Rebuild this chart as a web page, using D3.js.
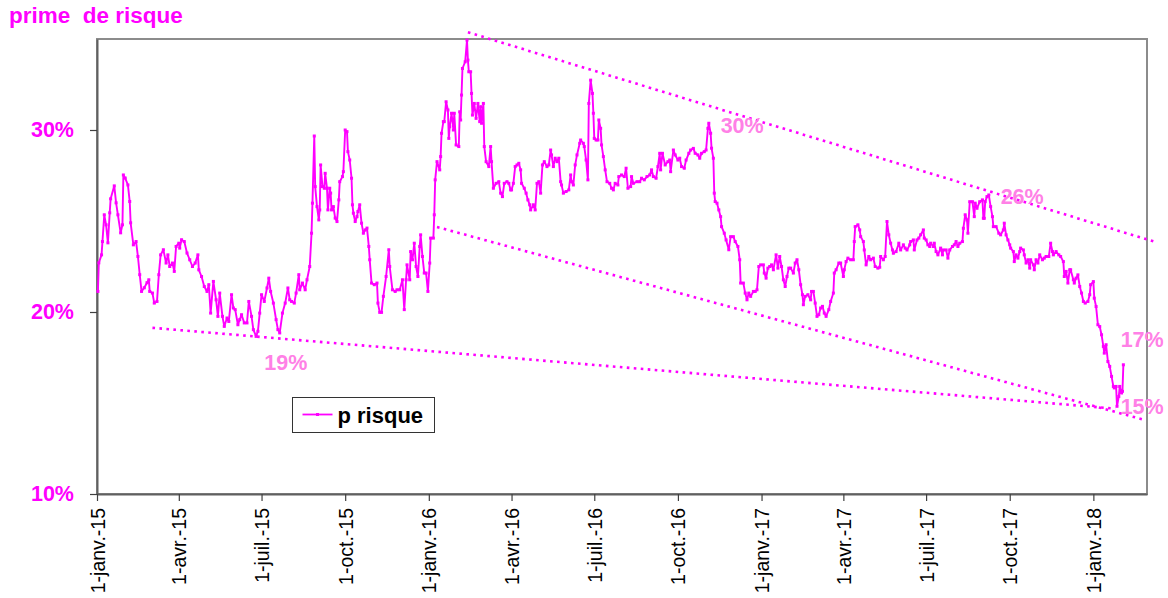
<!DOCTYPE html>
<html>
<head>
<meta charset="utf-8">
<script src="https://cdn.jsdelivr.net/npm/d3@7"></script>
<style>
  html, body { margin: 0; padding: 0; background: #fff; }
  svg { display: block; font-family: Arial, "Liberation Sans", sans-serif; }
</style>
</head>
<body>
<svg id="chart" width="1168" height="598"></svg>
<script>
// ---------------- data ----------------
const chartTitle = "prime  de risque";
const seriesName = "p risque";

const risk2015 = [["2015-01-02",21.13],["2015-01-03",22.70],["2015-01-06",23.14],["2015-01-07",23.87],["2015-01-09",25.34],["2015-01-11",24.79],["2015-01-13",23.80],["2015-01-15",25.45],["2015-01-16",26.22],["2015-01-20",26.93],["2015-01-22",26.00],["2015-01-24",25.34],["2015-01-27",24.35],["2015-01-29",24.79],["2015-01-30",27.53],["2015-02-01",27.36],["2015-02-04",26.98],["2015-02-06",26.07],["2015-02-07",24.90],["2015-02-10",23.69],["2015-02-13",23.87],["2015-02-15",23.05],["2015-02-17",22.05],["2015-02-19",21.13],["2015-02-22",21.33],["2015-02-25",21.61],["2015-02-27",21.77],["2015-02-28",21.13],["2015-03-03",21.04],["2015-03-05",20.49],["2015-03-08",20.58],["2015-03-10",22.05],["2015-03-12",23.14],["2015-03-15",23.42],["2015-03-18",22.69],["2015-03-20",23.14],["2015-03-22",22.50],["2015-03-25",22.69],["2015-03-27",22.23],["2015-03-29",23.60],["2015-04-01",23.78],["2015-04-02",23.51],["2015-04-04",23.97],["2015-04-07",23.87],["2015-04-10",23.24],["2015-04-13",22.87],["2015-04-16",22.50],["2015-04-19",22.69],["2015-04-22",23.14],["2015-04-23",22.32],["2015-04-26",21.95],["2015-04-29",21.40],["2015-05-02",21.13],["2015-05-04",21.50],["2015-05-06",19.94],["2015-05-09",21.68],["2015-05-12",20.67],["2015-05-14",19.76],["2015-05-16",21.04],["2015-05-19",19.76],["2015-05-21",19.21],["2015-05-24",19.67],["2015-05-26",19.48],["2015-05-29",20.95],["2015-05-31",20.22],["2015-06-02",20.13],["2015-06-05",19.30],["2015-06-07",19.58],["2015-06-09",19.85],["2015-06-12",19.40],["2015-06-15",19.40],["2015-06-17",20.58],["2015-06-20",19.76],["2015-06-22",19.03],["2015-06-25",18.66],["2015-06-27",18.94],["2015-06-29",19.94],["2015-07-01",20.95],["2015-07-04",20.58],["2015-07-07",21.32],["2015-07-09",21.86],["2015-07-11",21.13],["2015-07-14",20.49],["2015-07-17",19.58],["2015-07-19",19.03],["2015-07-21",18.85],["2015-07-24",19.94],["2015-07-27",20.49],["2015-07-30",21.32],["2015-08-01",20.67],["2015-08-03",20.58],["2015-08-06",20.49],["2015-08-08",21.04],["2015-08-11",22.05],["2015-08-12",21.22],["2015-08-15",21.59],["2015-08-18",21.22],["2015-08-20",21.77],["2015-08-23",22.50],["2015-08-25",24.33],["2015-08-26",25.98],["2015-08-28",29.67],["2015-08-29",26.89],["2015-08-31",25.79],["2015-09-02",25.06],["2015-09-03",25.61],["2015-09-04",28.08],["2015-09-06",26.89],["2015-09-08",26.80],["2015-09-09",27.62],["2015-09-11",26.80],["2015-09-12",25.61],["2015-09-14",26.80],["2015-09-15",26.53],["2015-09-16",25.61],["2015-09-18",25.79],["2015-09-20",25.16],["2015-09-22",24.97],["2015-09-24",26.16],["2015-09-25",27.16],["2015-09-28",27.44],["2015-09-29",27.71],["2015-10-01",30.00],["2015-10-03",29.91],["2015-10-04",28.81],["2015-10-06",28.35],["2015-10-08",27.35],["2015-10-09",25.89],["2015-10-10",25.43],["2015-10-12",24.97],["2015-10-14",25.24],["2015-10-15",25.52],["2015-10-17",25.89],["2015-10-19",24.88],["2015-10-21",24.33],["2015-10-23",24.51],["2015-10-25",24.61],["2015-10-27",23.60],["2015-10-28",22.87],["2015-10-30",21.59],["2015-11-02",21.50],["2015-11-05",21.59],["2015-11-06",20.49],["2015-11-08",19.98],["2015-11-10",19.98],["2015-11-12",20.86],["2015-11-15",21.95],["2015-11-18",23.42],["2015-11-19",22.50],["2015-11-22",21.22],["2015-11-25",21.13],["2015-11-27",21.22],["2015-11-30",21.22],["2015-12-03",21.77],["2015-12-05",20.13],["2015-12-07",21.77],["2015-12-08",22.59],["2015-12-11",21.77],["2015-12-12",23.32],["2015-12-14",22.87],["2015-12-16",23.78],["2015-12-18",22.50],["2015-12-20",21.95],["2015-12-22",23.60],["2015-12-23",24.24],["2015-12-25",23.05],["2015-12-27",22.14],["2015-12-29",22.14],["2015-12-31",21.13]];

const risk2016 = [["2016-01-02",22.69],["2016-01-03",24.06],["2016-01-06",24.06],["2016-01-07",25.34],["2016-01-08",27.26],["2016-01-10",28.26],["2016-01-13",27.81],["2016-01-14",28.54],["2016-01-15",29.82],["2016-01-17",30.46],["2016-01-18",30.46],["2016-01-20",31.55],["2016-01-22",31.10],["2016-01-23",29.54],["2016-01-24",30.18],["2016-01-26",30.92],["2016-01-28",30.00],["2016-01-29",30.92],["2016-01-31",29.18],["2016-02-03",29.09],["2016-02-04",31.00],["2016-02-05",30.55],["2016-02-06",31.92],["2016-02-07",33.38],["2016-02-10",33.75],["2016-02-12",34.94],["2016-02-13",33.84],["2016-02-14",33.20],["2016-02-16",33.20],["2016-02-17",32.01],["2016-02-18",30.82],["2016-02-20",31.46],["2016-02-22",30.64],["2016-02-24",31.46],["2016-02-26",30.46],["2016-02-27",31.28],["2016-02-28",30.37],["2016-03-01",31.46],["2016-03-02",29.09],["2016-03-04",28.26],["2016-03-07",27.99],["2016-03-09",29.09],["2016-03-10",28.26],["2016-03-12",26.80],["2016-03-15",27.07],["2016-03-18",27.16],["2016-03-20",26.53],["2016-03-22",26.34],["2016-03-24",27.07],["2016-03-27",27.16],["2016-03-29",27.07],["2016-03-31",26.71],["2016-04-01",26.71],["2016-04-03",27.07],["2016-04-05",27.99],["2016-04-07",28.08],["2016-04-09",28.17],["2016-04-11",27.81],["2016-04-12",27.07],["2016-04-15",26.80],["2016-04-17",26.53],["2016-04-19",26.16],["2016-04-21",25.89],["2016-04-22",25.61],["2016-04-25",25.89],["2016-04-27",25.61],["2016-04-29",27.07],["2016-05-01",27.16],["2016-05-03",26.53],["2016-05-05",28.08],["2016-05-07",28.26],["2016-05-10",27.99],["2016-05-12",28.08],["2016-05-14",28.90],["2016-05-15",28.63],["2016-05-17",27.99],["2016-05-19",28.45],["2016-05-21",28.26],["2016-05-23",28.45],["2016-05-25",27.16],["2016-05-26",26.98],["2016-05-28",26.53],["2016-05-31",26.62],["2016-06-03",26.71],["2016-06-05",27.53],["2016-06-06",27.16],["2016-06-08",26.98],["2016-06-10",28.08],["2016-06-12",28.63],["2016-06-15",29.27],["2016-06-16",29.45],["2016-06-19",29.27],["2016-06-20",29.09],["2016-06-22",28.35],["2016-06-24",27.26],["2016-06-25",31.46],["2016-06-27",32.74],["2016-06-29",32.01],["2016-06-30",30.92],["2016-07-01",29.54],["2016-07-03",29.45],["2016-07-05",29.45],["2016-07-06",30.55],["2016-07-08",30.09],["2016-07-09",29.18],["2016-07-11",28.54],["2016-07-13",27.81],["2016-07-15",27.16],["2016-07-18",27.07],["2016-07-20",26.80],["2016-07-22",26.71],["2016-07-24",27.07],["2016-07-27",26.98],["2016-07-28",27.44],["2016-07-31",27.53],["2016-08-03",27.44],["2016-08-05",27.90],["2016-08-07",26.80],["2016-08-10",26.89],["2016-08-11",27.44],["2016-08-13",27.07],["2016-08-17",27.16],["2016-08-20",27.16],["2016-08-22",27.35],["2016-08-25",27.26],["2016-08-28",27.44],["2016-08-31",27.53],["2016-09-02",27.81],["2016-09-04",27.44],["2016-09-07",27.35],["2016-09-09",27.99],["2016-09-11",28.72],["2016-09-12",27.81],["2016-09-14",28.72],["2016-09-17",28.08],["2016-09-20",28.26],["2016-09-22",28.35],["2016-09-23",27.71],["2016-09-26",28.90],["2016-09-28",28.63],["2016-10-01",28.35],["2016-10-03",28.45],["2016-10-05",27.99],["2016-10-08",27.90],["2016-10-10",28.35],["2016-10-13",28.72],["2016-10-15",28.90],["2016-10-18",28.99],["2016-10-20",28.72],["2016-10-23",28.63],["2016-10-25",28.45],["2016-10-27",28.72],["2016-10-30",28.81],["2016-11-01",28.90],["2016-11-03",30.09],["2016-11-04",30.37],["2016-11-06",29.82],["2016-11-07",29.00],["2016-11-09",28.45],["2016-11-10",26.53],["2016-11-11",26.07],["2016-11-13",25.98],["2016-11-15",25.61],["2016-11-17",25.24],["2016-11-18",24.69],["2016-11-21",24.33],["2016-11-23",23.96],["2016-11-26",23.42],["2016-11-28",24.14],["2016-12-01",24.14],["2016-12-03",23.87],["2016-12-06",23.60],["2016-12-08",22.87],["2016-12-09",21.59],["2016-12-12",21.59],["2016-12-14",21.04],["2016-12-16",20.67],["2016-12-18",21.04],["2016-12-20",20.86],["2016-12-23",21.13],["2016-12-25",21.13],["2016-12-27",21.22],["2016-12-29",22.50],["2016-12-31",22.59]];

const risk2017 = [["2017-01-03",22.59],["2017-01-04",22.14],["2017-01-06",21.86],["2017-01-08",22.41],["2017-01-10",22.50],["2017-01-12",22.59],["2017-01-14",22.32],["2017-01-17",23.14],["2017-01-19",22.41],["2017-01-21",23.05],["2017-01-23",22.50],["2017-01-25",21.77],["2017-01-27",21.40],["2017-01-29",21.95],["2017-01-31",22.41],["2017-02-02",22.41],["2017-02-05",22.14],["2017-02-07",22.69],["2017-02-09",22.87],["2017-02-11",22.32],["2017-02-13",21.50],["2017-02-15",20.95],["2017-02-16",20.40],["2017-02-18",20.86],["2017-02-21",20.95],["2017-02-24",20.67],["2017-02-25",21.13],["2017-02-27",21.13],["2017-03-01",20.49],["2017-03-03",19.76],["2017-03-05",19.85],["2017-03-07",20.22],["2017-03-09",20.31],["2017-03-11",19.94],["2017-03-13",19.76],["2017-03-16",20.13],["2017-03-18",20.58],["2017-03-21",21.04],["2017-03-22",22.14],["2017-03-24",22.32],["2017-03-27",22.69],["2017-03-29",22.69],["2017-04-01",21.95],["2017-04-02",22.32],["2017-04-04",22.77],["2017-04-06",22.96],["2017-04-09",22.87],["2017-04-12",22.87],["2017-04-13",23.87],["2017-04-14",24.69],["2017-04-17",24.79],["2017-04-19",24.51],["2017-04-20",24.14],["2017-04-23",23.87],["2017-04-24",23.41],["2017-04-26",22.59],["2017-04-29",23.05],["2017-05-01",22.87],["2017-05-04",22.96],["2017-05-06",22.50],["2017-05-09",22.41],["2017-05-11",22.46],["2017-05-12",23.05],["2017-05-15",22.87],["2017-05-17",23.05],["2017-05-19",24.97],["2017-05-21",24.24],["2017-05-23",23.78],["2017-05-25",23.41],["2017-05-26",23.23],["2017-05-29",23.32],["2017-06-01",23.78],["2017-06-03",23.41],["2017-06-06",23.69],["2017-06-08",23.51],["2017-06-10",23.41],["2017-06-13",23.69],["2017-06-14",23.87],["2017-06-17",23.96],["2017-06-18",23.41],["2017-06-21",23.96],["2017-06-23",24.06],["2017-06-25",24.24],["2017-06-28",24.51],["2017-06-29",24.06],["2017-07-01",23.96],["2017-07-03",23.69],["2017-07-05",23.60],["2017-07-06",23.78],["2017-07-09",23.60],["2017-07-10",23.78],["2017-07-12",23.32],["2017-07-14",23.14],["2017-07-17",23.51],["2017-07-19",23.14],["2017-07-20",23.41],["2017-07-23",23.41],["2017-07-25",22.96],["2017-07-27",23.41],["2017-07-30",23.60],["2017-08-01",23.69],["2017-08-03",23.87],["2017-08-05",23.60],["2017-08-07",23.78],["2017-08-10",23.87],["2017-08-11",24.60],["2017-08-13",25.34],["2017-08-15",25.06],["2017-08-16",24.33],["2017-08-18",26.06],["2017-08-21",26.06],["2017-08-23",25.24],["2017-08-24",25.98],["2017-08-26",25.70],["2017-08-29",26.06],["2017-09-01",26.16],["2017-09-02",25.15],["2017-09-03",25.15],["2017-09-04",26.06],["2017-09-06",26.34],["2017-09-08",26.43],["2017-09-10",25.79],["2017-09-12",25.24],["2017-09-13",24.69],["2017-09-16",24.69],["2017-09-19",24.33],["2017-09-21",24.24],["2017-09-24",24.51],["2017-09-25",24.88],["2017-09-27",24.24],["2017-09-29",23.96],["2017-10-01",23.69],["2017-10-02",23.51],["2017-10-05",23.32],["2017-10-06",22.77],["2017-10-08",23.14],["2017-10-10",22.96],["2017-10-12",23.32],["2017-10-13",23.51],["2017-10-16",23.41],["2017-10-17",23.14],["2017-10-19",22.69],["2017-10-21",22.87],["2017-10-23",22.41],["2017-10-24",22.87],["2017-10-27",22.59],["2017-10-28",22.32],["2017-10-30",22.87],["2017-11-01",22.69],["2017-11-03",23.14],["2017-11-06",22.87],["2017-11-08",22.96],["2017-11-10",23.05],["2017-11-13",23.05],["2017-11-15",23.78],["2017-11-17",23.32],["2017-11-18",23.14],["2017-11-21",23.32],["2017-11-24",23.14],["2017-11-26",23.05],["2017-11-29",22.77],["2017-11-30",21.95],["2017-12-02",22.23],["2017-12-04",21.59],["2017-12-06",22.32],["2017-12-07",22.32],["2017-12-10",21.77],["2017-12-11",21.59],["2017-12-13",21.86],["2017-12-15",22.04],["2017-12-17",21.40],["2017-12-19",21.04],["2017-12-21",20.58],["2017-12-23",20.49],["2017-12-26",20.58],["2017-12-28",20.95],["2017-12-29",21.50]];

const risk2018 = [["2018-01-01",21.67],["2018-01-02",20.76],["2018-01-04",20.30],["2018-01-06",19.30],["2018-01-08",19.20],["2018-01-10",18.75],["2018-01-12",18.11],["2018-01-13",17.74],["2018-01-15",18.20],["2018-01-17",17.28],["2018-01-19",17.01],["2018-01-21",16.46],["2018-01-23",15.91],["2018-01-24",15.83],["2018-01-26",15.91],["2018-01-27",14.82],["2018-01-29",15.36],["2018-01-30",15.91],["2018-02-01",15.55],["2018-02-02",15.64],["2018-02-03",17.10]];

const xDomain = ["2015-01-01", "2018-03-01"];
const yDomain = [10, 35];
const yTicks = [10, 20, 30];
const xTickDates = ["2015-01-01","2015-04-01","2015-07-01","2015-10-01","2016-01-01","2016-04-01","2016-07-01","2016-10-01","2017-01-01","2017-04-01","2017-07-01","2017-10-01","2018-01-01"];
const xTickLabels = ["1-janv.-15","1-avr.-15","1-juil.-15","1-oct.-15","1-janv.-16","1-avr.-16","1-juil.-16","1-oct.-16","1-janv.-17","1-avr.-17","1-juil.-17","1-oct.-17","1-janv.-18"];

// dotted trend lines: [start date, start value, end date, end value]
const trendLines = [
  ["2016-02-13", 35.37, "2018-03-10", 23.85],
  ["2016-01-10", 24.67, "2018-02-25", 14.09],
  ["2015-03-03", 19.13, "2018-01-25", 14.69]
];
// annotation labels: [text, date, value]
const annotations = [
  ["19%", "2015-07-04", 16.83],
  ["30%", "2016-11-17", 29.86],
  ["26%", "2017-09-21", 25.91],
  ["17%", "2018-01-31", 18.06],
  ["15%", "2018-01-31", 14.39]
];

// ---------------- drawing ----------------
const parseDate = d3.utcParse("%Y-%m-%d");
const seriesData = [...risk2015, ...risk2016, ...risk2017, ...risk2018].map(d => ({ date: parseDate(d[0]), value: d[1] }));

const svg = d3.select("#chart");
const plotLeft = 97, plotRight = 1147, plotTop = 39, plotBottom = 494;
const magenta = "#ff00ff";
const pink = "#ff80e6";

const x = d3.scaleUtc().domain(xDomain.map(parseDate)).range([plotLeft, plotRight]);
const y = d3.scaleLinear().domain(yDomain).range([plotBottom, plotTop]);

// title
svg.append("text")
  .attr("x", 9).attr("y", 23)
  .attr("fill", magenta)
  .attr("font-size", 22.5).attr("font-weight", "bold")
  .style("white-space", "pre")
  .text(chartTitle);

// plot frame
svg.append("rect")
  .attr("x", plotLeft).attr("y", plotTop)
  .attr("width", plotRight - plotLeft).attr("height", plotBottom - plotTop)
  .attr("fill", "none").attr("stroke", "#8c8c8c").attr("stroke-width", 2);

// y axis
const yAxis = svg.append("g")
  .attr("transform", `translate(${plotLeft},0)`)
  .call(d3.axisLeft(y).tickValues(yTicks).tickSize(7).tickSizeOuter(0).tickPadding(16).tickFormat(d => d + "%"));
yAxis.select(".domain").attr("stroke", "#606060").attr("stroke-width", 2);
yAxis.selectAll(".tick line").attr("stroke", "#404040").attr("stroke-width", 1.2);
yAxis.selectAll(".tick text")
  .attr("fill", magenta).attr("font-size", 21.5).attr("font-weight", "bold")
  .attr("font-family", "Arial, 'Liberation Sans', sans-serif");

// x axis
const xAxis = svg.append("g")
  .attr("transform", `translate(0,${plotBottom})`)
  .call(d3.axisBottom(x).tickValues(xTickDates.map(parseDate)).tickSize(7).tickSizeOuter(0)
        .tickFormat((d, i) => xTickLabels[i]));
xAxis.select(".domain").attr("stroke", "#606060").attr("stroke-width", 2);
xAxis.selectAll(".tick line").attr("stroke", "#404040").attr("stroke-width", 1.2);
xAxis.selectAll(".tick text")
  .attr("fill", "#000").attr("font-size", 19.5)
  .attr("font-family", "Arial, 'Liberation Sans', sans-serif")
  .attr("transform", "rotate(-90)")
  .attr("text-anchor", "end")
  .attr("x", -14).attr("y", 0).attr("dy", "0.36em");

// trend lines
svg.append("g").selectAll("line")
  .data(trendLines).join("line")
  .attr("x1", d => x(parseDate(d[0]))).attr("y1", d => y(d[1]))
  .attr("x2", d => x(parseDate(d[2]))).attr("y2", d => y(d[3]))
  .attr("stroke", magenta).attr("stroke-width", 2.6)
  .attr("stroke-dasharray", "2.6 4.4");

// series line
const lineGen = d3.line().x(d => x(d.date)).y(d => y(d.value));
svg.append("path")
  .datum(seriesData)
  .attr("d", lineGen)
  .attr("fill", "none").attr("stroke", magenta).attr("stroke-width", 1.9)
  .attr("stroke-linejoin", "round");

// markers
svg.append("g").selectAll("rect")
  .data(seriesData).join("rect")
  .attr("x", d => x(d.date) - 1.5).attr("y", d => y(d.value) - 1.5)
  .attr("width", 3).attr("height", 3)
  .attr("fill", magenta);

// annotation labels
svg.append("g").selectAll("text")
  .data(annotations).join("text")
  .attr("x", d => x(parseDate(d[1]))).attr("y", d => y(d[2]))
  .attr("fill", pink).attr("font-size", 21.5).attr("font-weight", "bold")
  .text(d => d[0]);

// legend
const lg = svg.append("g").attr("transform", "translate(292.5,397.5)");
lg.append("rect").attr("width", 142).attr("height", 35)
  .attr("fill", "#fff").attr("stroke", "#333").attr("stroke-width", 1);
lg.append("line").attr("x1", 10).attr("x2", 40).attr("y1", 17).attr("y2", 17)
  .attr("stroke", magenta).attr("stroke-width", 1.8);
lg.append("rect").attr("x", 23.5).attr("y", 15.5).attr("width", 3).attr("height", 3).attr("fill", magenta);
lg.append("text").attr("x", 45).attr("y", 25)
  .attr("font-size", 22).attr("font-weight", "bold").attr("fill", "#000")
  .text(seriesName);
</script>
</body>
</html>
